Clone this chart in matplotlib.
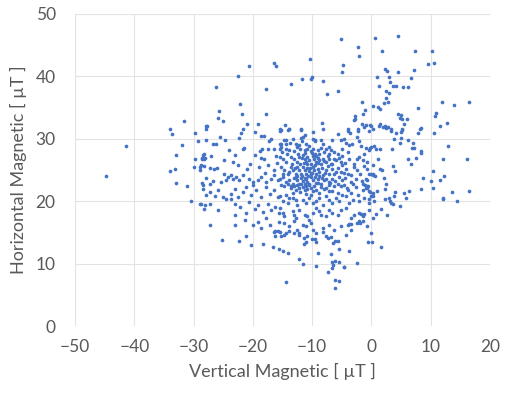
import numpy as np
import matplotlib
matplotlib.use("Agg")
import matplotlib.pyplot as plt

# points, grouped by region (vertical, horizontal in uT)
upper_pts = [
    (-31.7, 32.9), (-34.0, 31.5),
    (-5.1, 45.9), (-20.7, 41.7), (-16.5, 42.2), (-16.1, 41.6), (-10.4, 42.8), (-4.8, 41.8),
    (-4.9, 40.7), (-22.5, 40.0), (-26.3, 38.3), (-17.8, 38.0), (-13.5, 38.8), (-11.7, 39.6),
    (-10.2, 39.6), (-10.0, 39.9), (-8.1, 39.2), (-7.5, 37.2), (-5.6, 37.7), (-22.2, 35.6),
    (-25.8, 34.4), (-25.9, 33.4), (-25.1, 32.8), (-21.8, 33.9), (-17.8, 34.0), (-21.0, 32.4),
    (-19.2, 32.4), (-21.7, 31.6), (-27.8, 32.1), (-27.9, 31.5), (-14.6, 32.2), (-15.5, 31.5),
    (-14.0, 31.5), (-11.9, 31.5), (-8.4, 32.6),
    (0.6, 46.1), (4.4, 46.5), (-2.3, 44.7), (-2.1, 43.3), (1.8, 44.0), (7.4, 44.0), (10.2, 44.1),
    (9.6, 41.9), (10.6, 42.1), (2.3, 41.2), (2.6, 40.9), (4.5, 40.7), (7.1, 41.0), (1.0, 39.9),
    (2.9, 39.9), (3.1, 39.1), (6.7, 39.7), (1.2, 38.4), (3.7, 38.4), (4.2, 38.4), (5.3, 38.3),
    (6.1, 38.3), (2.5, 37.6), (2.9, 37.3), (2.4, 36.6), (2.1, 35.8), (2.7, 35.9), (-1.6, 35.9),
    (0.3, 35.2), (1.1, 35.1), (1.4, 34.7), (-1.1, 34.6), (-1.4, 34.0), (7.8, 34.9), (11.9, 35.9),
    (14.0, 35.4), (16.5, 35.9), (10.9, 34.2), (10.7, 33.7), (4.4, 34.0), (5.0, 33.8), (4.8, 33.4),
    (5.1, 33.1), (6.0, 33.2), (5.5, 32.4), (-2.7, 33.6), (-2.7, 33.1), (-2.9, 33.0), (-1.6, 32.4),
    (-1.0, 32.2), (-0.2, 32.2), (1.2, 32.0), (1.5, 32.3), (1.9, 31.9), (2.2, 32.1), (2.8, 31.9),
    (3.3, 31.6), (11.6, 32.1), (12.8, 32.5), (8.4, 31.7), (8.1, 31.5), (5.2, 31.5), (-4.0, 31.5),
    (-2.2, 31.5), (0.2, 31.5),
]

left_pts = [
    (-33.6, 30.8), (-29.8, 31.0), (-29.2, 29.6), (-41.5, 28.8), (-32.0, 29.0), (-33.0, 27.4),
    (-29.8, 26.8), (-28.6, 27.0), (-28.3, 26.8), (-28.2, 27.5), (-34.0, 24.9), (-33.2, 25.2),
    (-29.9, 25.5), (-28.9, 25.5), (-28.7, 25.8), (-29.0, 25.0), (-44.8, 24.0), (-32.9, 22.9),
    (-31.2, 22.5), (-28.6, 23.0), (-28.4, 21.9), (-30.4, 20.0), (-28.8, 19.5), (-28.2, 18.7),
    (-28.0, 32.0), (-22.0, 31.0), (-22.3, 30.2), (-19.6, 31.1), (-18.6, 30.4), (-18.1, 30.4),
    (-16.9, 30.0), (-17.3, 29.7), (-15.5, 31.3), (-14.1, 31.4), (-11.2, 30.6), (-11.9, 30.1),
    (-9.6, 29.8), (-25.5, 30.3), (-24.7, 29.8), (-26.8, 29.2), (-26.3, 29.1), (-28.0, 29.8),
    (-14.5, 29.8), (-14.5, 29.2), (-15.2, 29.1), (-15.4, 28.4), (-15.1, 27.9), (-16.5, 28.3),
    (-17.4, 28.4), (-18.5, 28.3), (-18.8, 28.1), (-16.1, 27.3), (-18.7, 27.0), (-18.1, 26.8),
    (-19.6, 27.4), (-21.5, 28.6), (-21.6, 28.3), (-24.1, 28.2), (-23.1, 27.4), (-23.3, 26.3),
    (-28.4, 27.4), (-28.1, 27.0), (-28.6, 26.8), (-27.0, 27.3), (-24.8, 26.6),
    (-20.5, 26.0), (-19.0, 25.5), (-17.5, 25.8), (-16.5, 25.0), (-15.9, 26.2), (-18.0, 24.6),
    (-21.0, 25.2), (-22.5, 25.8),
    (-28.2, 25.6), (-27.3, 25.4), (-26.5, 25.1), (-26.0, 25.3), (-27.9, 23.7), (-26.8, 23.2),
    (-27.3, 22.7), (-24.8, 24.4), (-24.2, 23.9), (-23.7, 24.2), (-23.4, 23.6), (-22.8, 23.9),
    (-22.3, 23.4), (-21.7, 24.2), (-20.6, 23.6), (-20.0, 23.1), (-19.2, 23.4), (-18.6, 23.9),
    (-17.8, 23.1), (-16.9, 23.6), (-16.4, 24.2), (-15.8, 23.4), (-24.5, 23.4), (-25.4, 23.1),
    (-28.4, 22.6), (-28.0, 21.0), (-27.3, 21.5), (-26.4, 20.9), (-25.9, 21.8), (-25.1, 20.7),
    (-24.5, 20.3), (-23.7, 21.2), (-23.1, 22.0), (-22.5, 20.7), (-21.7, 21.5), (-21.1, 22.3),
    (-20.3, 21.0), (-19.5, 21.8), (-18.6, 20.7), (-17.8, 22.3), (-17.2, 21.2), (-16.4, 21.8),
    (-15.8, 20.7), (-20.0, 22.6),
    (-28.9, 19.5), (-28.1, 19.4), (-27.3, 19.6), (-25.9, 18.6), (-23.7, 20.3), (-23.1, 19.5),
    (-22.2, 19.1), (-20.6, 19.9), (-19.7, 18.8), (-19.2, 19.4), (-18.3, 18.3), (-17.5, 19.6),
    (-16.9, 18.6), (-16.2, 19.1), (-15.6, 18.1), (-21.1, 18.2), (-23.1, 17.8),
    (-27.3, 16.2), (-23.1, 16.2), (-21.4, 17.0), (-20.0, 16.2), (-19.2, 16.7), (-18.6, 15.7),
    (-17.8, 17.3), (-17.2, 16.2), (-16.4, 15.1), (-15.6, 16.7),
]

core_pts = [
    (-15.3, 31.4), (-14.0, 31.6), (-11.9, 31.4), (-9.9, 31.1), (-8.2, 31.6), (-5.6, 30.8),
    (-4.0, 31.2), (-3.6, 31.0), (-2.2, 31.2), (-1.2, 31.9), (-0.4, 31.2), (-0.1, 32.0),
    (-14.7, 29.8), (-15.5, 29.2), (-13.3, 30.0), (-12.8, 29.1), (-11.6, 30.3), (-11.7, 29.6),
    (-11.0, 29.2), (-12.2, 29.0), (-9.9, 29.9), (-9.5, 29.6), (-8.5, 29.8), (-8.2, 29.2),
    (-7.7, 28.4), (-7.1, 28.7), (-5.2, 29.8), (-4.6, 30.0), (-4.3, 29.4), (-3.8, 29.0),
    (-3.3, 29.2), (-2.5, 30.3), (-2.1, 29.6), (-0.9, 28.5), (-0.1, 28.7), (-1.8, 28.9), (-6.6, 29.8),
    (-15.3, 28.7), (-14.4, 28.4), (-13.9, 28.2), (-12.5, 28.7), (-12.1, 28.3), (-11.3, 28.2),
    (-10.8, 28.4), (-10.2, 28.0), (-9.9, 28.4), (-9.5, 27.6), (-9.1, 28.2), (-8.8, 27.5),
    (-8.0, 27.9), (-7.1, 27.6), (-6.3, 27.9), (-5.7, 27.5), (-4.9, 28.4), (-4.0, 27.9),
    (-2.4, 26.8), (-2.1, 27.1), (-1.2, 27.6), (-0.4, 28.2),
    (-15.5, 27.1), (-15.0, 26.8), (-14.4, 26.3), (-13.6, 27.1), (-13.0, 26.8), (-12.5, 26.3),
    (-12.2, 27.1), (-11.6, 27.4), (-11.3, 26.8), (-11.0, 26.3), (-10.8, 27.1), (-10.5, 26.6),
    (-10.2, 26.0), (-9.9, 27.3), (-9.7, 26.8), (-9.4, 26.3), (-9.1, 26.9), (-8.8, 26.6),
    (-8.5, 26.0), (-8.2, 26.8), (-7.7, 26.3), (-7.1, 26.8), (-6.6, 26.0), (-6.0, 26.6),
    (-5.2, 26.3), (-4.9, 25.8), (-3.8, 26.8), (-2.9, 26.0), (-1.5, 26.6), (-0.7, 26.3), (0.2, 25.8),
    (-15.3, 25.5), (-14.7, 25.0), (-14.1, 24.4), (-13.6, 25.5), (-13.3, 25.0), (-12.7, 24.4),
    (-12.5, 25.5), (-12.2, 25.0), (-11.9, 24.4), (-11.6, 25.5), (-11.3, 25.0), (-11.0, 24.4),
    (-10.8, 25.4), (-10.5, 24.8), (-10.2, 24.3), (-9.9, 25.5), (-9.7, 25.0), (-9.4, 24.4),
    (-9.1, 25.2), (-8.8, 24.7), (-8.2, 24.2), (-7.7, 25.0), (-7.1, 24.4), (-6.6, 25.2),
    (-6.0, 24.7), (-5.2, 24.7), (-4.3, 25.2), (-3.5, 24.2), (-2.4, 25.0), (-0.7, 25.2), (-0.1, 24.4),
    (-15.5, 23.6), (-15.0, 23.9), (-14.4, 23.1), (-13.9, 23.4), (-13.3, 22.8), (-12.7, 23.9),
    (-12.5, 23.4), (-12.2, 22.8), (-11.9, 23.7), (-11.6, 23.2), (-11.3, 22.7), (-11.0, 23.6),
    (-10.8, 23.1), (-10.5, 22.7), (-10.2, 23.9), (-9.9, 23.4), (-9.4, 23.0), (-9.1, 23.6),
    (-8.5, 22.8), (-8.0, 23.4), (-7.1, 23.1), (-6.6, 23.6), (-5.7, 22.8), (-4.9, 23.4),
    (-3.5, 23.1), (-2.6, 23.6), (-1.5, 22.8), (-0.7, 23.4), (0.2, 24.2),
    (-13.8, 29.4), (-13.0, 28.0), (-12.4, 27.6), (-11.8, 26.9), (-11.2, 27.8), (-10.6, 28.8),
    (-10.0, 27.7), (-9.3, 27.3), (-8.6, 28.6), (-8.0, 26.4), (-7.4, 27.2), (-6.8, 28.2),
    (-6.3, 26.8), (-5.5, 26.9), (-5.0, 27.2), (-4.5, 26.1), (-14.2, 27.5), (-13.4, 26.0),
    (-12.9, 25.3), (-12.0, 25.9), (-11.4, 26.1), (-10.9, 25.9), (-10.3, 25.4), (-9.6, 25.8),
    (-9.0, 26.2), (-8.4, 25.3), (-7.9, 24.6), (-7.3, 25.7), (-6.9, 25.9), (-6.3, 24.3),
    (-5.6, 25.4), (-4.7, 24.6), (-14.9, 24.3), (-13.9, 24.7), (-13.1, 23.7), (-12.6, 24.1),
    (-11.7, 24.0), (-11.2, 23.8), (-10.7, 24.0), (-10.0, 24.6), (-9.5, 23.9), (-8.9, 24.0),
    (-8.3, 23.8), (-7.6, 23.5), (-7.0, 22.9), (-6.2, 23.2), (-5.4, 23.9), (-4.4, 23.8),
    (-3.9, 24.4), (-3.0, 25.5), (-2.0, 24.3), (-1.3, 25.6), (-13.6, 22.4), (-12.8, 21.8),
    (-12.0, 21.5), (-11.0, 21.2), (-10.2, 21.0), (-9.0, 22.9), (-8.0, 22.0), (-7.2, 21.7),
    (-6.4, 22.4), (-5.0, 21.0), (-4.2, 22.2), (-3.2, 22.7), (-2.2, 21.0), (-1.6, 23.2),
]

lower_pts = [
    (-15.3, 22.6), (-14.7, 22.4), (-14.1, 22.7), (-13.6, 22.1), (-13.0, 22.5), (-12.5, 22.6),
    (-12.2, 22.1), (-11.9, 22.7), (-11.6, 22.3), (-11.3, 21.8), (-11.0, 22.5), (-10.8, 21.9),
    (-10.5, 22.6), (-10.2, 22.1), (-9.9, 21.6), (-9.7, 22.4), (-9.4, 21.8), (-8.8, 21.3),
    (-8.5, 22.3), (-7.7, 22.1), (-7.1, 22.6), (-6.6, 21.6), (-5.7, 21.3), (-5.2, 22.5),
    (-4.6, 22.6), (-4.0, 21.8), (-3.5, 21.3), (-2.6, 22.3), (-1.5, 21.8), (-0.7, 22.4),
    (-0.4, 21.6), (0.2, 21.3), (-13.3, 21.3), (-14.4, 21.0), (-13.9, 20.5),
    (-15.5, 20.8), (-15.0, 20.0), (-14.1, 19.7), (-13.3, 20.5), (-12.7, 20.2), (-12.5, 19.4),
    (-11.6, 20.2), (-11.0, 19.7), (-10.5, 20.5), (-9.9, 19.7), (-9.4, 20.0), (-8.8, 20.5),
    (-8.2, 19.4), (-7.1, 20.2), (-6.6, 19.7), (-6.0, 20.5), (-5.4, 20.0), (-4.3, 20.8),
    (-3.8, 19.7), (-3.2, 20.2), (-2.1, 20.0), (-1.2, 20.5), (-0.4, 19.7), (0.2, 20.8), (-7.7, 20.8),
    (-15.5, 18.9), (-15.0, 18.1), (-14.7, 17.6), (-13.3, 18.4), (-13.0, 17.8), (-12.7, 17.3),
    (-12.2, 18.6), (-11.3, 17.8), (-10.8, 17.6), (-10.5, 17.0), (-9.9, 18.2), (-9.4, 18.9),
    (-8.8, 18.4), (-8.5, 17.8), (-7.7, 17.6), (-7.1, 18.6), (-6.6, 18.1), (-5.7, 17.8),
    (-5.2, 18.6), (-4.3, 18.9), (-3.5, 17.3), (-2.9, 17.8), (-2.1, 18.1), (-1.5, 17.6),
    (-0.4, 18.6), (0.2, 17.3),
    (-14.7, 16.5), (-13.9, 16.0), (-13.0, 16.8), (-12.5, 15.4), (-11.6, 16.2), (-11.0, 16.0),
    (-10.2, 16.5), (-9.9, 15.4), (-9.4, 14.9), (-8.2, 15.7), (-7.1, 16.2), (-6.3, 15.4),
    (-5.2, 16.0), (-4.0, 16.2), (-3.5, 15.4), (-2.4, 16.5), (-1.5, 16.8), (-0.7, 16.0),
    (-0.1, 14.9), (-14.4, 14.9), (-12.2, 14.6), (-7.7, 14.4), (-4.3, 14.6),
    (-25.3, 13.8), (-22.4, 13.7), (-21.1, 14.4), (-20.4, 13.0), (-18.3, 13.2), (-16.7, 12.7),
    (-15.6, 12.3), (-14.9, 12.0), (-14.1, 11.7), (-16.2, 14.4), (-15.2, 14.5), (-14.7, 14.6),
    (-15.4, 15.0), (-15.7, 15.2), (-16.3, 15.3), (-13.9, 15.2), (-13.0, 14.9), (-12.2, 14.9),
    (-11.4, 14.1), (-10.9, 14.5), (-11.4, 13.2), (-11.0, 13.4), (-10.0, 14.0), (-9.6, 13.9),
    (-9.3, 13.4), (-8.2, 15.1), (-7.3, 14.1), (-6.8, 14.2), (-6.2, 13.6), (-6.5, 13.3),
    (-5.6, 13.7), (-9.1, 11.7), (-6.9, 11.5), (-5.4, 12.3), (-12.2, 10.7), (-11.5, 10.0),
    (-9.4, 9.6), (-6.1, 10.5), (-6.7, 10.2), (-6.5, 9.8), (-6.6, 9.3), (-5.4, 10.3),
    (-4.7, 9.4), (-7.3, 8.7), (-6.1, 7.4), (-5.4, 7.3), (-6.2, 6.1), (-14.5, 7.1),
    (-3.8, 12.1), (-0.6, 13.5), (0.1, 13.4), (1.6, 12.7), (-4.6, 9.5), (-2.4, 10.1),
]

right_pts = [
    (10.6, 31.0), (7.8, 30.9), (5.2, 31.4), (4.9, 31.1), (4.1, 31.0), (3.3, 31.2), (6.2, 29.8),
    (7.0, 29.4), (3.8, 29.9), (4.9, 30.1), (4.8, 29.3), (12.9, 28.8), (6.9, 28.5), (7.2, 28.5),
    (3.5, 28.4), (8.3, 28.1), (8.4, 27.7), (6.2, 26.8), (7.5, 26.9), (6.6, 26.0), (12.0, 26.8),
    (16.1, 26.8), (3.6, 25.7), (3.9, 24.9), (10.3, 24.9), (8.7, 23.8), (12.3, 24.0), (11.6, 23.4),
    (10.1, 23.2), (8.3, 22.0), (10.3, 22.1), (13.6, 21.5), (16.5, 21.6), (12.1, 20.6), (12.1, 20.4),
    (14.5, 20.0), (6.3, 21.6), (5.5, 21.3), (5.9, 20.5), (4.0, 21.5), (3.8, 20.9), (3.0, 20.6),
    (2.3, 20.3), (4.8, 19.3), (3.6, 19.5), (3.3, 19.8), (3.1, 20.0), (2.5, 22.7), (2.2, 21.9),
    (2.1, 23.7), (1.4, 25.2), (1.7, 25.0), (1.1, 26.7), (1.6, 18.7), (0.7, 17.9), (2.6, 17.8),
    (0.8, 28.3), (1.5, 28.3), (0.4, 28.8), (-0.2, 28.6), (0.2, 24.3), (0.6, 24.1), (-0.9, 23.6),
    (-0.5, 24.4), (-0.6, 22.4), (-0.3, 21.5), (0.0, 20.8), (-0.4, 20.3), (0.5, 20.0), (0.9, 21.7),
    (-1.1, 22.6), (-1.0, 22.2), (-0.7, 22.2), (-1.2, 18.0), (-1.7, 17.9), (-1.9, 16.5),
    (-2.1, 16.8), (-3.8, 16.3), (-3.5, 16.3), (2.5, 31.7),
]

x_ticks = [-50, -40, -30, -20, -10, 0, 10, 20]
y_ticks = [0, 10, 20, 30, 40, 50]


def main():
    plt.rcParams['font.family'] = ['Lato', 'DejaVu Sans']
    pts = np.array(upper_pts + left_pts + core_pts + lower_pts + right_pts)

    fig = plt.figure(figsize=(5.11, 3.94), dpi=100)
    ax = fig.add_axes([0.147, 0.172, 0.812, 0.793])
    ax.scatter(pts[:, 0], pts[:, 1], s=7, color='#4472C4', linewidths=0, zorder=3)

    ax.set_xlim(-50, 20)
    ax.set_ylim(0, 50)
    ax.set_xticks(x_ticks)
    ax.set_yticks(y_ticks)
    ax.grid(True, color='#e3e3e3', linewidth=0.8)
    for s in ax.spines.values():
        s.set_visible(False)
    ax.tick_params(length=0, labelsize=12.5, colors='#595959', pad=9)
    ax.tick_params(axis='y', pad=14)

    ax.set_xlabel('Vertical Magnetic [ µT ]', fontsize=13, color='#595959', labelpad=6)
    ax.set_ylabel('Horizontal Magnetic [ µT ]', fontsize=13, color='#595959', labelpad=6)

    fig.savefig('out.png', dpi=100)


if __name__ == '__main__':
    main()
